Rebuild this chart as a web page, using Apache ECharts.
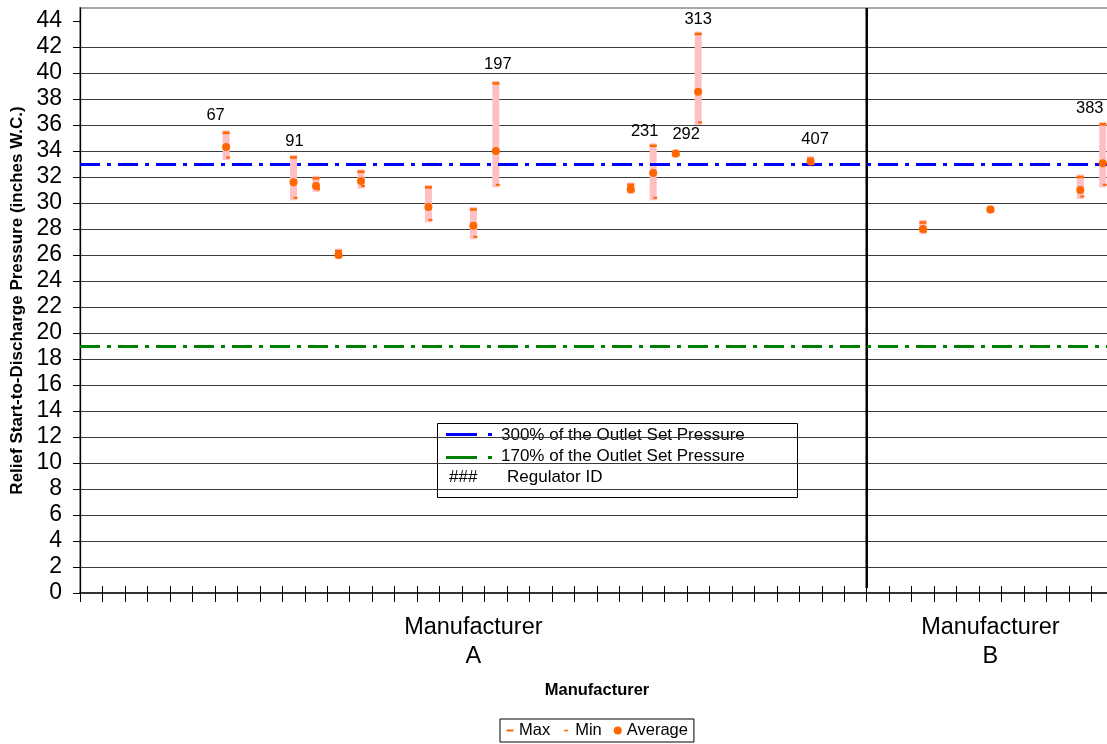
<!DOCTYPE html>
<html><head><meta charset="utf-8">
<script src="https://cdn.jsdelivr.net/npm/echarts@6/dist/echarts.min.js"></script>
<style>html,body{margin:0;padding:0;background:#fff}#c{width:1107px;height:744px}</style>
</head><body><div id="c"></div>
<script>
// ---- data ----
const groupNames = ['Manufacturer\nA', 'Manufacturer\nB'];
const groupSizes = [35, 11];
const slots   = [6, 9, 10, 11, 12, 15, 17, 18, 24, 25, 26, 27, 32, 37, 40, 44, 45];
const maxVals = [35.4, 33.5, 31.9, 26.3, 32.4, 31.2, 29.5, 39.2, 31.4, 34.4, 33.9, 43.0, 33.4, 28.5, 29.6, 32.0, 36.05];
const minVals = [33.5, 30.4, 31.05, 25.9, 31.3, 28.7, 27.4, 31.4, 30.9, 30.4, 33.7, 36.2, 33.0, 27.8, 29.4, 30.5, 31.4];
const avgVals = [34.3, 31.6, 31.3, 26.0, 31.7, 29.7, 28.25, 34.0, 31.05, 32.3, 33.8, 38.55, 33.2, 28.0, 29.5, 31.0, 33.05];
const regIds  = ['67', '91', '', '', '', '', '', '197', '', '231', '292', '313', '407', '', '', '', '383'];
const yTicks  = [0, 2, 4, 6, 8, 10, 12, 14, 16, 18, 20, 22, 24, 26, 28, 30, 32, 34, 36, 38, 40, 42, 44];
const refNames  = ['300% of the Outlet Set Pressure', '170% of the Outlet Set Pressure'];
const refValues = [33, 19];
const refColors = ['#0000FF', '#008000'];

// ---- build ----
const FONT = '"Liberation Sans", Arial, Helvetica, sans-serif';
const categories = [];
const catLabel = {};
let start = 0;
groupNames.forEach((g, gi) => {
  for (let k = 0; k < groupSizes[gi]; k++) categories.push(g.replace('\n', ' ') + ' #' + (k + 1));
  catLabel[start + Math.floor((groupSizes[gi] - 1) / 2)] = g;
  start += groupSizes[gi];
});
const sepIndex = groupSizes[0];

// label nudges (style) for regulator ID labels
const nudge = {'67': [-10.5, -17.5], '91': [1, -16.5], '197': [2, -19], '231': [-8.5, -14],
  '292': [10.5, -18], '313': [0, -14.5], '407': [4.5, -19.5], '383': [-13, -16]};

const DASH = [20, 7, 4, 7];
const MARK = '#FF6600';

const chart = echarts.init(document.getElementById('c'), null, {renderer: 'canvas'});
const option = {
  animation: false,
  grid: {left: 80, width: 1034, top: 8, bottom: 151, outerBoundsMode: 'none', containLabel: false,
    show: true, borderColor: '#A6A6A6', borderWidth: 2, backgroundColor: 'transparent'},
  legend: {
    data: [
      {name: 'Max', icon: 'path://M0,0L0,0M8,8L8,8M0.5,3h7v2h-7z'},
      {name: 'Min', icon: 'path://M0,0L0,0M8,8L8,8M2,3.2h4v1.6h-4z'},
      {name: 'Average', icon: 'circle'}
    ],
    left: 500, top: 719, itemWidth: 8, itemHeight: 8, itemGap: 12,
    padding: [3, 6, 3, 6], borderColor: '#000', borderWidth: 1, backgroundColor: '#fff',
    selectedMode: false,
    textStyle: {fontSize: 16.5, color: '#000', fontFamily: FONT}
  },
  xAxis: [
    {
      type: 'category', data: categories, position: 'bottom', boundaryGap: true,
      name: 'Manufacturer', nameLocation: 'middle', nameGap: 89,
      nameTextStyle: {fontFamily: FONT, fontSize: 16.5, fontWeight: 'bold', color: '#000'},
      axisLine: {show: true, lineStyle: {color: '#333', width: 2}},
      axisTick: {show: true, interval: 0, length: 9, lineStyle: {color: '#000', width: 1}},
      axisLabel: {interval: 0, formatter: (v, i) => catLabel[i] || '', fontFamily: FONT, fontSize: 23.5,
        lineHeight: 29, margin: 20, color: '#000'},
      splitLine: {show: false}
    },
    {
      type: 'category', data: categories, position: 'bottom', boundaryGap: true,
      axisLine: {show: false},
      axisTick: {show: true, inside: true, interval: 0, length: 7, lineStyle: {color: '#000', width: 1}},
      axisLabel: {show: false}, splitLine: {show: false}
    }
  ],
  yAxis: {
    type: 'value', min: 0, max: 45, interval: 2,
    name: 'Relief Start-to-Discharge Pressure (inches W.C.)', nameLocation: 'middle', nameGap: 51,
    nameTextStyle: {fontFamily: FONT, fontSize: 17, fontWeight: 'bold', color: '#000'},
    axisLine: {show: true, lineStyle: {color: '#000', width: 1.3}},
    axisTick: {show: true, length: 7, customValues: yTicks, lineStyle: {color: '#000'}},
    axisLabel: {customValues: yTicks, margin: 18, fontFamily: FONT, fontSize: 23, color: '#000'},
    splitLine: {show: true, showMinLine: false, showMaxLine: false, lineStyle: {color: '#3c3c3c', width: 1}}
  },
  series: [
    {
      type: 'custom', name: 'range', z: 1, silent: true,
      data: slots.map((s, k) => [s, minVals[k], maxVals[k]]),
      encode: {x: 0, y: [1, 2]},
      renderItem: (params, api) => {
        const x = api.value(0);
        const lo = api.coord([x, api.value(1)]);
        const hi = api.coord([x, api.value(2)]);
        return {type: 'rect', shape: {x: lo[0] - 3.5, y: hi[1] - 2.5, width: 7, height: lo[1] - hi[1] + 5},
          style: {fill: '#FFC0C4'}};
      },
      markLine: {
        silent: true, symbol: 'none', label: {show: false},
        data: refValues.map((v, k) => ({name: refNames[k], yAxis: v,
          lineStyle: {color: refColors[k], width: 3, type: DASH, opacity: 1}}))
      }
    },
    {
      type: 'custom', name: 'separator', z: 4, silent: true,
      data: [[sepIndex, 0]],
      encode: {x: 0, y: 1},
      renderItem: (params, api) => {
        const bw = api.size([1, 0])[0];
        const x = api.coord([api.value(0), 0])[0] - bw / 2;
        const top = api.coord([0, 45])[1];
        const bot = api.coord([0, 0])[1];
        return {type: 'line', shape: {x1: x, y1: top, x2: x, y2: bot - 5}, style: {stroke: '#000', lineWidth: 2.5}};
      }
    },
    {
      type: 'scatter', name: 'Max', z: 6, symbol: 'rect', symbolSize: [7, 2.5],
      itemStyle: {color: MARK, opacity: 1},
      label: {show: false, position: 'inside', formatter: p => regIds[p.dataIndex], color: '#000',
        fontFamily: FONT, fontSize: 16.5, textBorderWidth: 0, opacity: 1},
      data: slots.map((s, k) => {
        const item = {value: [s, maxVals[k]]};
        if (regIds[k]) item.label = {show: true, offset: nudge[regIds[k]] || [0, -16]};
        return item;
      })
    },
    {
      type: 'scatter', name: 'Min', z: 6, symbol: 'rect', symbolSize: [4, 2], symbolOffset: [2, 0],
      itemStyle: {color: MARK, opacity: 1},
      data: slots.map((s, k) => [s, minVals[k]])
    },
    {
      type: 'scatter', name: 'Average', z: 6, symbol: 'circle', symbolSize: 8,
      itemStyle: {color: MARK, opacity: 1},
      data: slots.map((s, k) => [s, avgVals[k]])
    }
  ],
  graphic: [
    {type: 'group', z: 100, children: [
      {type: 'rect', shape: {x: 437.5, y: 423.5, width: 360, height: 74}, style: {fill: '#fff', stroke: '#000', lineWidth: 1}},
      {type: 'line', shape: {x1: 446, y1: 434.5, x2: 477, y2: 434.5}, style: {stroke: refColors[0], lineWidth: 3}},
      {type: 'line', shape: {x1: 488, y1: 434.5, x2: 492, y2: 434.5}, style: {stroke: refColors[0], lineWidth: 3}},
      {type: 'text', style: {x: 501, y: 435, text: refNames[0], fontFamily: FONT, fontSize: 17, fill: '#000', verticalAlign: 'middle'}},
      {type: 'line', shape: {x1: 446, y1: 457.5, x2: 477, y2: 457.5}, style: {stroke: refColors[1], lineWidth: 3}},
      {type: 'line', shape: {x1: 488, y1: 457.5, x2: 492, y2: 457.5}, style: {stroke: refColors[1], lineWidth: 3}},
      {type: 'text', style: {x: 501, y: 456, text: refNames[1], fontFamily: FONT, fontSize: 17, fill: '#000', verticalAlign: 'middle'}},
      {type: 'text', style: {x: 449, y: 477, text: '###', fontFamily: FONT, fontSize: 17, fill: '#000', verticalAlign: 'middle'}},
      {type: 'text', style: {x: 507, y: 477, text: 'Regulator ID', fontFamily: FONT, fontSize: 17, fill: '#000', verticalAlign: 'middle'}}
    ]}
  ]
};
chart.setOption(option);
</script></body></html>
